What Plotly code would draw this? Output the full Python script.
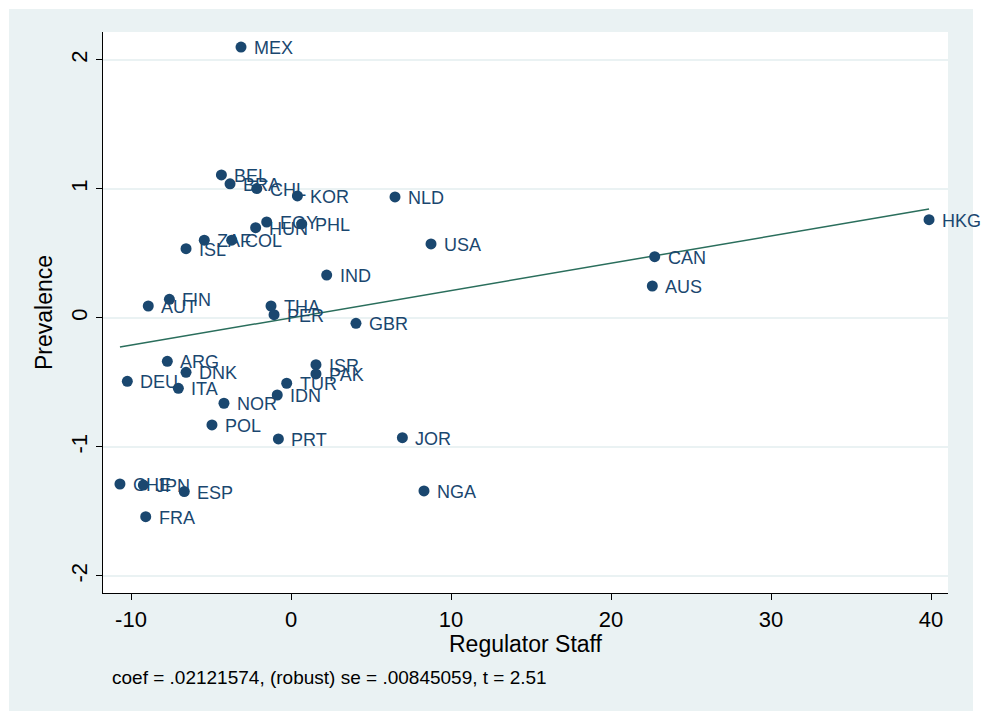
import plotly.graph_objects as go

# ---- data ----
countries = ["MEX", "BEL", "BRA", "CHL", "KOR", "NLD", "EGY", "PHL", "HUN", "ZAF",
             "COL", "ISL", "USA", "IND", "CAN", "AUS", "HKG", "FIN", "AUT", "THA",
             "PER", "GBR", "ARG", "DNK", "DEU", "ITA", "ISR", "PAK", "TUR", "IDN",
             "NOR", "POL", "PRT", "JOR", "NGA", "CHE", "JPN", "ESP", "FRA"]
staff = [-3.125, -4.35, -3.81, -2.14, 0.40, 6.50, -1.52, 0.67, -2.21, -5.42,
         -3.71, -6.56, 8.75, 2.23, 22.73, 22.58, 39.875, -7.60, -8.92, -1.25,
         -1.06, 4.06, -7.73, -6.56, -10.23, -7.04, 1.56, 1.56, -0.27, -0.86,
         -4.19, -4.94, -0.79, 6.96, 8.31, -10.69, -9.23, -6.67, -9.08]
prevalence = [2.10, 1.109, 1.04, 1.003, 0.946, 0.938, 0.744, 0.729, 0.700, 0.603,
              0.603, 0.537, 0.574, 0.333, 0.475, 0.248, 0.762, 0.145, 0.093, 0.093,
              0.026, -0.041, -0.336, -0.421, -0.491, -0.545, -0.362, -0.434, -0.506, -0.597,
              -0.661, -0.829, -0.938, -0.928, -1.341, -1.287, -1.295, -1.346, -1.540]

fit_x = [-10.69, 39.875]
fit_y = [-0.225, 0.845]

x_ticks = [-10, 0, 10, 20, 30, 40]
x_tick_labels = ["-10", "0", "10", "20", "30", "40"]
y_ticks = [-2, -1, 0, 1, 2]
y_tick_labels = ["-2", "-1", "0", "1", "2"]

x_title = "Regulator Staff"
y_title = "Prevalence"
note = "coef = .02121574, (robust) se = .00845059, t = 2.51"

NAVY = "#1a476f"
FIT = "#2a6e5c"
BG = "#eaf2f3"
FONT = "Liberation Sans, Arial, Helvetica, sans-serif"

fig = go.Figure()
fig.add_trace(go.Scatter(x=fit_x, y=fit_y, mode="lines",
                         line=dict(color=FIT, width=1.5), hoverinfo="skip"))
fig.add_trace(go.Scatter(x=staff, y=prevalence, mode="markers",
                         marker=dict(color=NAVY, size=11),
                         text=countries, hoverinfo="text"))

annotations = [dict(x=xv, y=yv, text=lab, xref="x", yref="y", showarrow=False,
                    xanchor="left", yanchor="middle", xshift=11, yshift=-1,
                    font=dict(family=FONT, size=18, color=NAVY))
               for xv, yv, lab in zip(staff, prevalence, countries)]
annotations.append(dict(x=0.0083, y=-0.1515, xref="paper", yref="paper", text=note,
                        showarrow=False, xanchor="left", yanchor="middle",
                        font=dict(family=FONT, size=19, color="black")))

fig.update_layout(
    width=981, height=713,
    margin=dict(l=103, r=33, t=32, b=120),
    paper_bgcolor="white", plot_bgcolor="white",
    showlegend=False,
    font=dict(family=FONT, color="black"),
    annotations=annotations,
    shapes=[
        dict(type="rect", xref="paper", yref="paper", x0=-0.1112, x1=1.0296,
             y0=-0.2103, y1=1.041, fillcolor=BG, line=dict(width=0), layer="below"),
        dict(type="rect", xref="paper", yref="paper", x0=0, x1=1, y0=0, y1=1,
             fillcolor="white", line=dict(width=0), layer="below"),
    ],
    xaxis=dict(range=[-11.75, 41.06], tickvals=x_ticks, ticktext=x_tick_labels,
               showgrid=False, zeroline=False,
               showline=True, linecolor="black", linewidth=1.2, ticks="outside",
               ticklen=6, tickcolor="black", tickfont=dict(size=22),
               title=dict(text=x_title, font=dict(size=23), standoff=3)),
    yaxis=dict(range=[-2.132, 2.217], tickvals=y_ticks, ticktext=y_tick_labels,
               showgrid=True, gridcolor=BG,
               gridwidth=1.5, zeroline=False, showline=True, linecolor="black",
               linewidth=1.2, ticks="outside", ticklen=6, tickcolor="black",
               tickangle=-90, tickfont=dict(size=22),
               title=dict(text=y_title, font=dict(size=23), standoff=8)),
)

fig.write_html("out.html", config={"displayModeBar": False},
               post_script="document.body.style.margin='0';")
